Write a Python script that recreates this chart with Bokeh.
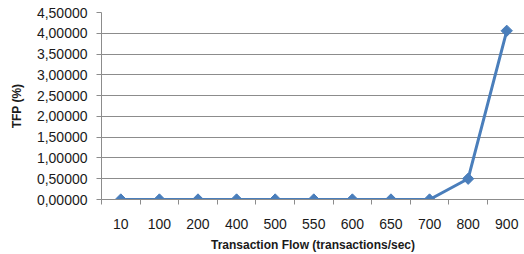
import numpy as np
from bokeh.plotting import figure
from bokeh.models import FixedTicker, CustomJSTickFormatter, Range1d
from bokeh.embed import file_html
from bokeh.resources import INLINE

categories = ["10", "100", "200", "400", "500", "550", "600", "650", "700", "800", "900"]
tfp_values = [0.0, 0.0, 0.0, 0.0, 0.0, 0.0, 0.0, 0.0, 0.0, 0.5, 4.06]
y_ticks = [0.0, 0.5, 1.0, 1.5, 2.0, 2.5, 3.0, 3.5, 4.0, 4.5]

idx = list(range(len(categories)))
boundaries = [i - 0.5 for i in range(len(categories) + 1)]

p = figure(width=524, height=254, output_backend="svg", toolbar_location=None,
           x_range=Range1d(-0.5, 10.46), y_range=Range1d(0, 4.5),
           min_border_left=101, min_border_top=12, min_border_bottom=55, min_border_right=0)
p.outline_line_color = None
p.background_fill_color = "white"
p.border_fill_color = "white"

line_color = "#4A7EBB"
p.line(idx, tfp_values, line_color=line_color, line_width=3)
p.scatter(idx, tfp_values, marker="square", angle=np.pi / 4, size=8,
          fill_color=line_color, line_color=line_color)

grid_color = "#8C8C8C"
xa = p.xaxis[0]
xa.ticker = FixedTicker(ticks=idx, minor_ticks=boundaries)
xa.major_label_overrides = {i: c for i, c in enumerate(categories)}
xa.major_tick_out = 0
xa.major_tick_in = 0
xa.minor_tick_out = 5
xa.minor_tick_in = 0
xa.minor_tick_line_color = grid_color
xa.axis_line_color = grid_color
xa.major_label_standoff = 14
xa.major_label_text_font = "Liberation Sans"
xa.major_label_text_font_size = "14px"
xa.major_label_text_color = "#1a1a1a"
xa.axis_label = "Transaction Flow (transactions/sec)"
xa.axis_label_text_font = "Liberation Sans"
xa.axis_label_text_font_style = "bold"
xa.axis_label_text_font_size = "12px"
xa.axis_label_text_color = "#1a1a1a"
xa.axis_label_standoff = 6

ya = p.yaxis[0]
ya.ticker = FixedTicker(ticks=y_ticks)
ya.formatter = CustomJSTickFormatter(code="return tick.toFixed(5).replace('.', ',');")
ya.major_tick_out = 5
ya.major_tick_in = 0
ya.minor_tick_out = 0
ya.minor_tick_in = 0
ya.major_tick_line_color = grid_color
ya.axis_line_color = grid_color
ya.major_label_standoff = 9
ya.major_label_text_font = "Liberation Sans"
ya.major_label_text_font_size = "14px"
ya.major_label_text_color = "#1a1a1a"
ya.axis_label = "TFP (%)"
ya.axis_label_text_font = "Liberation Sans"
ya.axis_label_text_font_style = "bold"
ya.axis_label_text_font_size = "12px"
ya.axis_label_text_color = "#1a1a1a"
ya.axis_label_standoff = 10

p.xgrid.grid_line_color = None
p.ygrid.grid_line_color = grid_color
p.ygrid.grid_line_width = 1

open("out.html", "w").write(file_html(p, INLINE))
